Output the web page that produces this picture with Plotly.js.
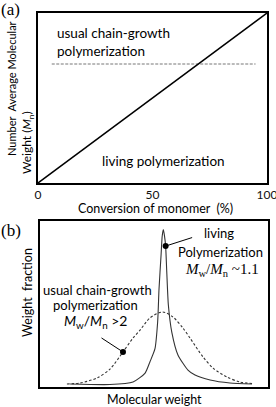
<!DOCTYPE html>
<html>
<head>
<meta charset="utf-8">
<script src="https://cdn.plot.ly/plotly-3.0.1.min.js"></script>
<style>html,body{margin:0;padding:0;background:#fff;}#chart{width:276px;height:407px;}</style>
</head>
<body>
<div id="chart"></div>
<script>
// Panel (a): Mn vs conversion
var convLiving = [0, 100];
var mnLiving = [0, 100];
var convUsual = [6, 95];
var mnUsual = [70, 70];
var xTickVals = [0, 50, 100];
var xTickText = ["0", "50", "100"];

// Panel (b): weight fraction vs molecular weight
var mwLiving = [13.2, 30.7, 40.8, 46.1, 48.2, 50.4, 51.6, 52.2, 53.1, 53.6, 54.1, 54.6, 55.1, 55.6, 56.3, 57.8, 60.5, 64.9, 68.0, 74.6, 83.3, 93.0];
var wfLiving = [1.8, 1.5, 3.0, 8.4, 15.1, 22.9, 39.2, 59.0, 79.5, 91.0, 94.9, 91.0, 84.9, 69.3, 49.4, 33.1, 19.3, 10.2, 7.2, 4.2, 2.4, 1.8];
var mwUsual = [11.8, 17.5, 25.0, 30.7, 36.4, 40.8, 43.9, 48.2, 53.7, 58.3, 62.7, 65.8, 71.5, 75.9, 82.0, 87.7, 93.0];
var wfUsual = [1.8, 2.4, 5.4, 10.8, 21.1, 29.5, 34.3, 41.6, 45.2, 42.2, 35.5, 29.5, 18.1, 11.4, 6.0, 3.0, 2.1];
var dotLiving = {x: 55.1, y: 84.9};
var dotUsual = {x: 36.4, y: 21.1};

var W = 276, H = 407;
function px(x) { return x / W; }
function py(y) { return 1 - y / H; }

var sans = "Lato, 'Open Sans', sans-serif";
var serif = "'Liberation Serif', 'DejaVu Serif', serif";

var traces = [
  {x: convUsual, y: mnUsual, xaxis: 'x', yaxis: 'y', mode: 'lines', line: {color: '#777', width: 1, dash: '3px,1.5px'}, hoverinfo: 'none'},
  {x: convLiving, y: mnLiving, xaxis: 'x', yaxis: 'y', mode: 'lines', line: {color: '#000', width: 1.5}, hoverinfo: 'none'},
  {x: mwUsual, y: wfUsual, xaxis: 'x2', yaxis: 'y2', mode: 'lines', line: {color: '#333', width: 1.1, dash: '2.5px,2px', shape: 'spline', smoothing: 0.8}, hoverinfo: 'none'},
  {x: mwLiving, y: wfLiving, xaxis: 'x2', yaxis: 'y2', mode: 'lines', line: {color: '#333', width: 1.1, shape: 'spline', smoothing: 0.6}, hoverinfo: 'none'},
  {x: [dotLiving.x, dotUsual.x], y: [dotLiving.y, dotUsual.y], xaxis: 'x2', yaxis: 'y2', mode: 'markers', marker: {color: '#000', size: 6}, hoverinfo: 'none'}
];

var axBase = {showgrid: false, zeroline: false, showline: true, mirror: true, linecolor: '#000', linewidth: 2, ticks: '', fixedrange: true};

function lab(text, x, y, opts) {
  return Object.assign({text: text, x: px(x), y: py(y), xref: 'paper', yref: 'paper', xanchor: 'center', yanchor: 'middle', showarrow: false, font: {family: sans, size: 13}}, opts || {});
}

var layout = {
  width: W, height: H,
  margin: {l: 0, r: 0, t: 0, b: 0},
  paper_bgcolor: '#fff', plot_bgcolor: '#fff',
  showlegend: false,
  font: {family: sans, color: '#000', size: 12},
  xaxis: Object.assign({}, axBase, {domain: [px(38), px(267)], range: [0, 100], tickvals: xTickVals, ticktext: xTickText, ticklabeloverflow: 'allow', tickfont: {family: sans, size: 12, color: '#111'}, anchor: 'y'}),
  yaxis: Object.assign({}, axBase, {domain: [py(183), py(13)], range: [0, 100], showticklabels: false, anchor: 'x'}),
  xaxis2: Object.assign({}, axBase, {domain: [px(40), px(268)], range: [0, 100], showticklabels: false, anchor: 'y2'}),
  yaxis2: Object.assign({}, axBase, {domain: [py(387), py(221)], range: [0, 100], showticklabels: false, anchor: 'x2'}),
  annotations: [
    lab('(a)', 10, 9, {font: {family: serif, size: 17}}),
    lab('(b)', 11, 230, {font: {family: serif, size: 17}}),
    lab('Number  Average Molecular', 12, 89, {textangle: -90, font: {family: sans, size: 11}}),
    lab('Weight (<i>M</i><sub>n</sub>)', 28, 143, {textangle: -90, font: {family: sans, size: 12}}),
    lab('Conversion of monomer  (%)', 155, 208, {font: {family: sans, size: 12.5}}),
    lab('usual chain-growth', 55, 33, {xanchor: 'left', font: {family: sans, size: 13.5}}),
    lab('polymerization', 55, 51, {xanchor: 'left', font: {family: sans, size: 13.5}}),
    lab('living polymerization', 163, 161, {font: {family: sans, size: 13.5}}),
    lab('Weight  fraction', 27, 293, {textangle: -90, font: {family: sans, size: 12.5}}),
    lab('Molecular weight', 154, 399, {font: {family: sans, size: 12.5}}),
    lab('living', 219, 233),
    lab('Polymerization', 220, 252),
    lab('<i>M</i><sub>w</sub>/<i>M</i><sub>n</sub> ~1.1', 222, 270, {font: {family: serif, size: 15}}),
    lab('usual chain-growth', 97, 290),
    lab('polymerization', 95, 305),
    lab('<i>M</i><sub>w</sub>/<i>M</i><sub>n</sub> >2', 95, 321, {font: {family: sans, size: 14}}),
    {text: '', x: dotLiving.x, y: dotLiving.y, xref: 'x2', yref: 'y2', showarrow: true, arrowhead: 0, arrowwidth: 1, arrowcolor: '#000', ax: 28, ay: -9, standoff: 0},
    {text: '', x: dotUsual.x, y: dotUsual.y, xref: 'x2', yref: 'y2', showarrow: true, arrowhead: 0, arrowwidth: 1, arrowcolor: '#000', ax: -23, ay: -15, standoff: 0}
  ]
};

Plotly.newPlot('chart', traces, layout, {staticPlot: true, displayModeBar: false});
</script>
</body>
</html>
